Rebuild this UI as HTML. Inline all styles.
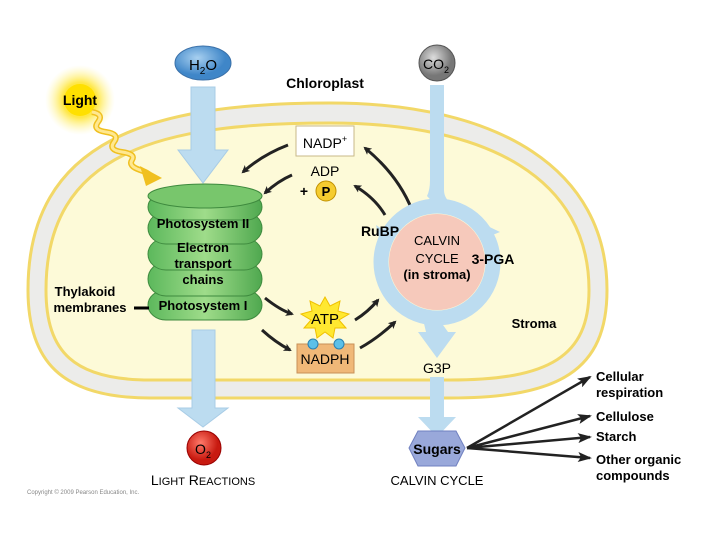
<!DOCTYPE html>
<html><head><meta charset="utf-8"><style>
html,body{margin:0;padding:0;background:#fff;}
svg{display:block;font-family:"Liberation Sans",sans-serif;font-weight:bold;}
</style></head><body>
<svg width="720" height="540" viewBox="0 0 720 540" xmlns="http://www.w3.org/2000/svg">
<defs>
<marker id="ah" markerWidth="8" markerHeight="8" refX="6" refY="4" orient="auto" markerUnits="userSpaceOnUse"><path d="M0,0 L8,4 L0,8 L2,4 Z" fill="#222"/></marker>
<marker id="ah2" markerWidth="14" markerHeight="10" refX="12" refY="5" orient="auto" markerUnits="userSpaceOnUse"><path d="M0,0 L14,5 L0,10 L3,5 Z" fill="#222"/></marker>
<radialGradient id="sun"><stop offset="0" stop-color="#ffe000"/><stop offset="0.5" stop-color="#ffe84a"/><stop offset="1" stop-color="#fff7b0" stop-opacity="0"/></radialGradient>
<linearGradient id="grn" x1="0" x2="1"><stop offset="0" stop-color="#5cb85c"/><stop offset="0.5" stop-color="#9fdc8a"/><stop offset="1" stop-color="#4fa84f"/></linearGradient>
<radialGradient id="red" cx="0.4" cy="0.35"><stop offset="0" stop-color="#ff7a6a"/><stop offset="1" stop-color="#c81a10"/></radialGradient>
<radialGradient id="gry" cx="0.4" cy="0.35"><stop offset="0" stop-color="#ddd"/><stop offset="1" stop-color="#777"/></radialGradient>
<radialGradient id="blu" cx="0.4" cy="0.35"><stop offset="0" stop-color="#a8d0f0"/><stop offset="1" stop-color="#3f86c8"/></radialGradient>
</defs>
<path d="M28,290 C28,140 150,103 330,103 C500,103 607,170 607,290 C607,370 560,398 450,398 L150,398 C60,398 28,360 28,290 Z" fill="#ececea" stroke="#f2d868" stroke-width="3"/>
<path d="M46,290 C46,152 160,123 330,123 C490,123 589,180 589,290 C589,356 550,380 450,380 L150,380 C74,380 46,352 46,290 Z" fill="#fdfad8" stroke="#f2d868" stroke-width="3"/>
<path d="M191,87 H215 V150 H228 L203,183 L178,150 H191 Z" fill="#bcdcf0" stroke="#a8cce6"/>
<path d="M192,330 H215 V408 H228 L203,427 L178,408 H192 Z" fill="#bcdcf0" stroke="#a8cce6"/>
<ellipse cx="203" cy="63" rx="28" ry="17" fill="url(#blu)" stroke="#3a70a8"/>
<text x="203" y="70" font-size="15" text-anchor="middle" font-weight="normal">H<tspan font-size="10" dy="4">2</tspan><tspan dy="-4">O</tspan></text>
<circle cx="437" cy="63" r="18" fill="url(#gry)" stroke="#555"/>
<text x="436" y="69" font-size="14" text-anchor="middle" font-weight="normal">CO<tspan font-size="9" dy="4">2</tspan></text>
<text x="325" y="88" font-size="14" text-anchor="middle">Chloroplast</text>
<circle cx="80" cy="100" r="35" fill="url(#sun)"/>
<circle cx="80" cy="100" r="16" fill="#ffe000"/>
<text x="80" y="105" font-size="14" text-anchor="middle">Light</text>
<path d="M92,112 q12,2 6,10 t8,10 t8,10 t8,10 t10,8 t8,10 t10,8" fill="none" stroke="#f0c020" stroke-width="6"/>
<path d="M92,112 q12,2 6,10 t8,10 t8,10 t8,10 t10,8 t8,10 t10,8" fill="none" stroke="#ffe890" stroke-width="3"/>
<path d="M140,166 L162,178 L146,186 Z" fill="#f0c020"/>
<g stroke="#3e8a3e" stroke-width="1">
<rect x="148" y="290" width="114" height="30" rx="18" fill="url(#grn)"/>
<rect x="148" y="262" width="114" height="34" rx="18" fill="url(#grn)"/>
<rect x="148" y="238" width="114" height="32" rx="18" fill="url(#grn)"/>
<rect x="148" y="212" width="114" height="32" rx="18" fill="url(#grn)"/>
<rect x="148" y="194" width="114" height="26" rx="16" fill="url(#grn)"/>
<ellipse cx="205" cy="196" rx="57" ry="12" fill="#78c66c"/>
</g>
<text x="203" y="228" font-size="13" text-anchor="middle">Photosystem II</text>
<text x="203" y="252" font-size="13" text-anchor="middle">Electron</text>
<text x="203" y="268" font-size="13" text-anchor="middle">transport</text>
<text x="203" y="284" font-size="13" text-anchor="middle">chains</text>
<text x="203" y="310" font-size="13" text-anchor="middle">Photosystem I</text>
<text x="85" y="296" font-size="13" text-anchor="middle">Thylakoid</text>
<text x="90" y="312" font-size="13" text-anchor="middle">membranes</text>
<line x1="134" y1="308" x2="149" y2="308" stroke="#000" stroke-width="3"/>
<rect x="296" y="126" width="58" height="30" fill="#fff" stroke="#c8b888"/>
<text x="325" y="148" font-size="14" text-anchor="middle" font-weight="normal">NADP<tspan font-size="9" dy="-6">+</tspan></text>
<text x="325" y="176" font-size="14" text-anchor="middle" font-weight="normal">ADP</text>
<text x="304" y="196" font-size="14" text-anchor="middle">+</text>
<circle cx="326" cy="191" r="10" fill="#f5cc30" stroke="#c09000"/>
<text x="326" y="196" font-size="13" text-anchor="middle">P</text>
<g fill="none" stroke="#222" stroke-width="3">
<path d="M288,145 Q262,155 243,172" marker-end="url(#ah)"/>
<path d="M292,175 Q278,181 265,193" marker-end="url(#ah)"/>
<path d="M412,210 Q398,175 365,148" marker-end="url(#ah)"/>
<path d="M385,215 Q375,198 355,186" marker-end="url(#ah)"/>
<path d="M265,298 Q280,310 292,314" marker-end="url(#ah)"/>
<path d="M262,330 Q275,342 290,350" marker-end="url(#ah)"/>
<path d="M355,320 Q368,312 378,300" marker-end="url(#ah)"/>
<path d="M360,348 Q378,338 395,322" marker-end="url(#ah)"/>
</g>
<polygon points="325,297 330,306 340,301 338,311 349,314 339,320 346,328 335,328 333,338 325,332 317,338 315,328 304,328 311,320 301,314 312,311 310,301 320,306" fill="#ffe830" stroke="#f0c000"/>
<text x="325" y="324" font-size="15" text-anchor="middle" font-weight="normal">ATP</text>
<rect x="297" y="344" width="57" height="29" fill="#f0b878" stroke="#c89058"/>
<circle cx="313" cy="344" r="5" fill="#5cc0e8" stroke="#2a80b0"/>
<circle cx="339" cy="344" r="5" fill="#5cc0e8" stroke="#2a80b0"/>
<text x="325" y="364" font-size="14" text-anchor="middle" font-weight="normal">NADPH</text>
<circle cx="437" cy="262" r="56" fill="none" stroke="#bcdcf0" stroke-width="15"/>
<circle cx="437" cy="262" r="48" fill="#f6c9bb"/>
<path d="M430,85 H444 V190 Q444,200 455,206 L440,210 L427,196 Q430,190 430,180 Z" fill="#bcdcf0"/>
<path d="M475,220 L500,232 L480,240 Z" fill="#bcdcf0"/>
<path d="M382,250 L376,225 L395,238 Z" fill="#bcdcf0"/>
<path d="M422,315 L438,318 L448,332 L456,332 L437,358 L418,332 L426,332 Z" fill="#bcdcf0"/>
<path d="M430,377 H444 V417 H456 L437,437 L418,417 H430 Z" fill="#bcdcf0"/>
<text x="380" y="236" font-size="14" text-anchor="middle">RuBP</text>
<text x="437" y="245" font-size="13" text-anchor="middle" font-weight="normal">CALVIN</text>
<text x="437" y="263" font-size="13" text-anchor="middle" font-weight="normal">CYCLE</text>
<text x="437" y="279" font-size="13" text-anchor="middle">(in stroma)</text>
<text x="493" y="264" font-size="14" text-anchor="middle">3-PGA</text>
<text x="534" y="328" font-size="13" text-anchor="middle">Stroma</text>
<text x="437" y="373" font-size="14" text-anchor="middle" font-weight="normal">G3P</text>
<polygon points="418,431 456,431 465,448 456,466 418,466 409,448" fill="#99a8da" stroke="#7080c0"/>
<text x="437" y="454" font-size="14" text-anchor="middle">Sugars</text>
<g stroke="#222" stroke-width="2.5" fill="none">
<line x1="467" y1="448" x2="590" y2="377" marker-end="url(#ah2)"/>
<line x1="467" y1="448" x2="590" y2="416" marker-end="url(#ah2)"/>
<line x1="467" y1="448" x2="590" y2="437" marker-end="url(#ah2)"/>
<line x1="467" y1="448" x2="590" y2="458" marker-end="url(#ah2)"/>
</g>
<text x="596" y="381" font-size="13">Cellular</text>
<text x="596" y="397" font-size="13">respiration</text>
<text x="596" y="421" font-size="13">Cellulose</text>
<text x="596" y="441" font-size="13">Starch</text>
<text x="596" y="464" font-size="13">Other organic</text>
<text x="596" y="480" font-size="13">compounds</text>
<circle cx="204" cy="448" r="17" fill="url(#red)" stroke="#900"/>
<text x="203" y="454" font-size="14" text-anchor="middle" font-weight="normal">O<tspan font-size="9" dy="4">2</tspan></text>
<text x="203" y="485" font-size="14" text-anchor="middle" font-weight="normal">L<tspan font-size="11">IGHT</tspan> R<tspan font-size="11">EACTIONS</tspan></text>
<text x="437" y="485" font-size="13" text-anchor="middle" font-weight="normal">CALVIN CYCLE</text>
<text x="27" y="494" font-size="6" fill="#888" font-weight="normal">Copyright © 2009 Pearson Education, Inc.</text>
</svg>
</body></html>
